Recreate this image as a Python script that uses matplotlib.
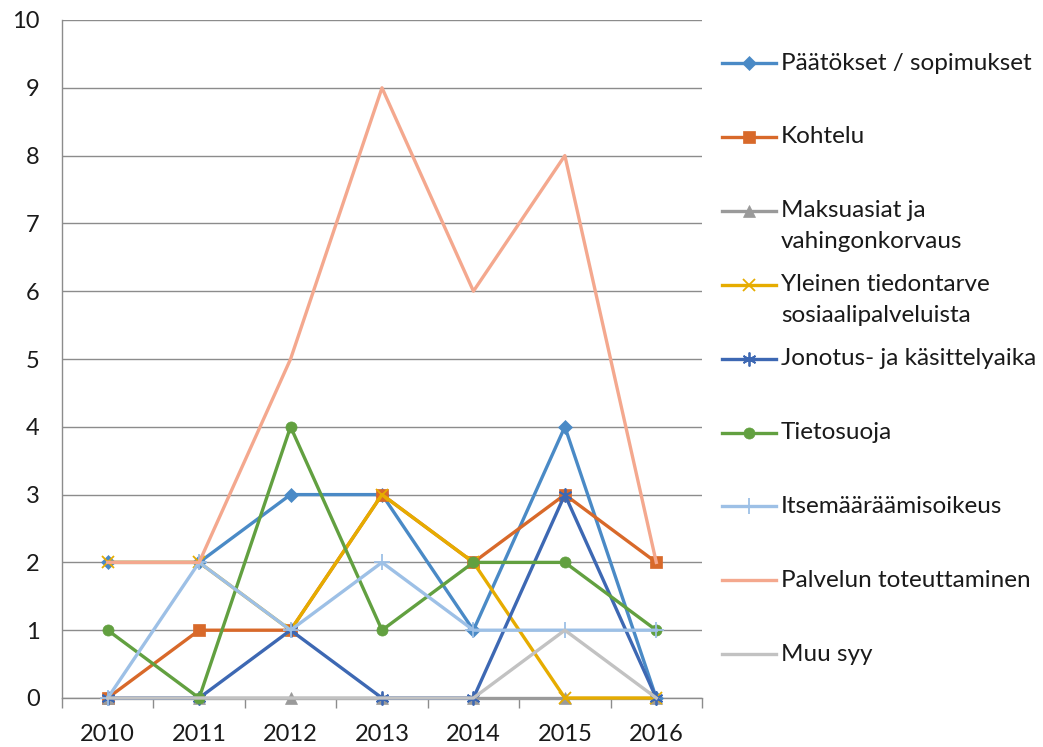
import matplotlib
matplotlib.use("Agg")
import matplotlib.pyplot as plt
from matplotlib.lines import Line2D

years = ["2010", "2011", "2012", "2013", "2014", "2015", "2016"]

paatokset = [2, 2, 3, 3, 1, 4, 0]
kohtelu = [0, 1, 1, 3, 2, 3, 2]
maksuasiat = [0, 0, 0, 0, 0, 0, 0]
yleinen = [2, 2, 1, 3, 2, 0, 0]
jonotus = [0, 0, 1, 0, 0, 3, 0]
tietosuoja = [1, 0, 4, 1, 2, 2, 1]
itsemaar = [0, 2, 1, 2, 1, 1, 1]
palvelun = [2, 2, 5, 9, 6, 8, 2]
muu = [0, 0, 0, 0, 0, 1, 0]

labels = [
    "Päätökset / sopimukset",
    "Kohtelu",
    "Maksuasiat ja\nvahingonkorvaus",
    "Yleinen tiedontarve\nsosiaalipalveluista",
    "Jonotus- ja käsittelyaika",
    "Tietosuoja",
    "Itsemääräämisoikeus",
    "Palvelun toteuttaminen",
    "Muu syy",
]
series = [paatokset, kohtelu, maksuasiat, yleinen, jonotus, tietosuoja,
          itsemaar, palvelun, muu]
colors = ["#4A8AC6", "#D8692A", "#9A9A9A", "#E6AC00", "#3D68B3",
          "#62A040", "#9DC0E6", "#F4A88E", "#C2C2C2"]
markers = ["D", "s", "^", "x", (6, 2, 0), "o", "+", None, None]
msizes = [7, 8, 8, 9, 10, 8, 11, 0, 0]

plt.rcParams["font.family"] = ["Lato", "DejaVu Sans"]

W, H = 1043, 747
fig = plt.figure(figsize=(W / 100, H / 100), dpi=100)
ax = fig.add_axes([62 / W, 1 - 698 / H, 640 / W, 678 / H])

x = list(range(len(years)))
order = [7, 0, 1, 2, 3, 4, 5, 6, 8]
for i in order:
    mk = markers[i]
    ax.plot(x, series[i], color=colors[i], lw=2.4, marker=mk,
            markersize=msizes[i], markeredgewidth=1.3 if mk in ("x", "+", (6, 2, 0)) else 0.5,
            markeredgecolor=colors[i], zorder=3 + i * 0.1, clip_on=False)

ax.set_xlim(-0.5, len(years) - 0.5)
ax.set_ylim(0, 10)
ax.set_yticks(range(0, 11))
ax.set_xticks(x)
ax.set_xticklabels(years)
ax.set_xticks([i + 0.5 for i in range(-1, len(years))], minor=True)
ax.grid(axis="y", color="#8C8C8C", lw=1.0)
ax.set_axisbelow(True)
for s in ["top", "right"]:
    ax.spines[s].set_visible(False)
for s in ["left", "bottom"]:
    ax.spines[s].set_color("#8C8C8C")
    ax.spines[s].set_linewidth(1.0)
ax.tick_params(axis="y", length=0, pad=16, labelsize=17, labelcolor="#1a1a1a")
ax.tick_params(axis="x", which="major", length=0, pad=19, labelsize=17, labelcolor="#1a1a1a")
ax.tick_params(axis="x", which="minor", length=7, color="#8C8C8C", width=1.0)

# manual legend
y0, pitch = 63, 73.9
for k, lab in enumerate(labels):
    yc = y0 + k * pitch
    yf = 1 - yc / H
    ln = Line2D([722 / W, 776 / W], [yf, yf], transform=fig.transFigure,
                color=colors[k], lw=2.4)
    fig.add_artist(ln)
    if markers[k] is not None:
        mk = Line2D([749 / W], [yf], transform=fig.transFigure, color=colors[k],
                    marker=markers[k], markersize=msizes[k],
                    markeredgewidth=1.3 if markers[k] in ("x", "+", (6, 2, 0)) else 0.5,
                    markeredgecolor=colors[k], lw=0)
        fig.add_artist(mk)
    for j, line in enumerate(lab.split("\n")):
        fig.text(781 / W, 1 - (yc + j * 31) / H, line, fontsize=17.5,
                 va="center", ha="left", color="#1a1a1a")

fig.savefig("out.png", dpi=100)
